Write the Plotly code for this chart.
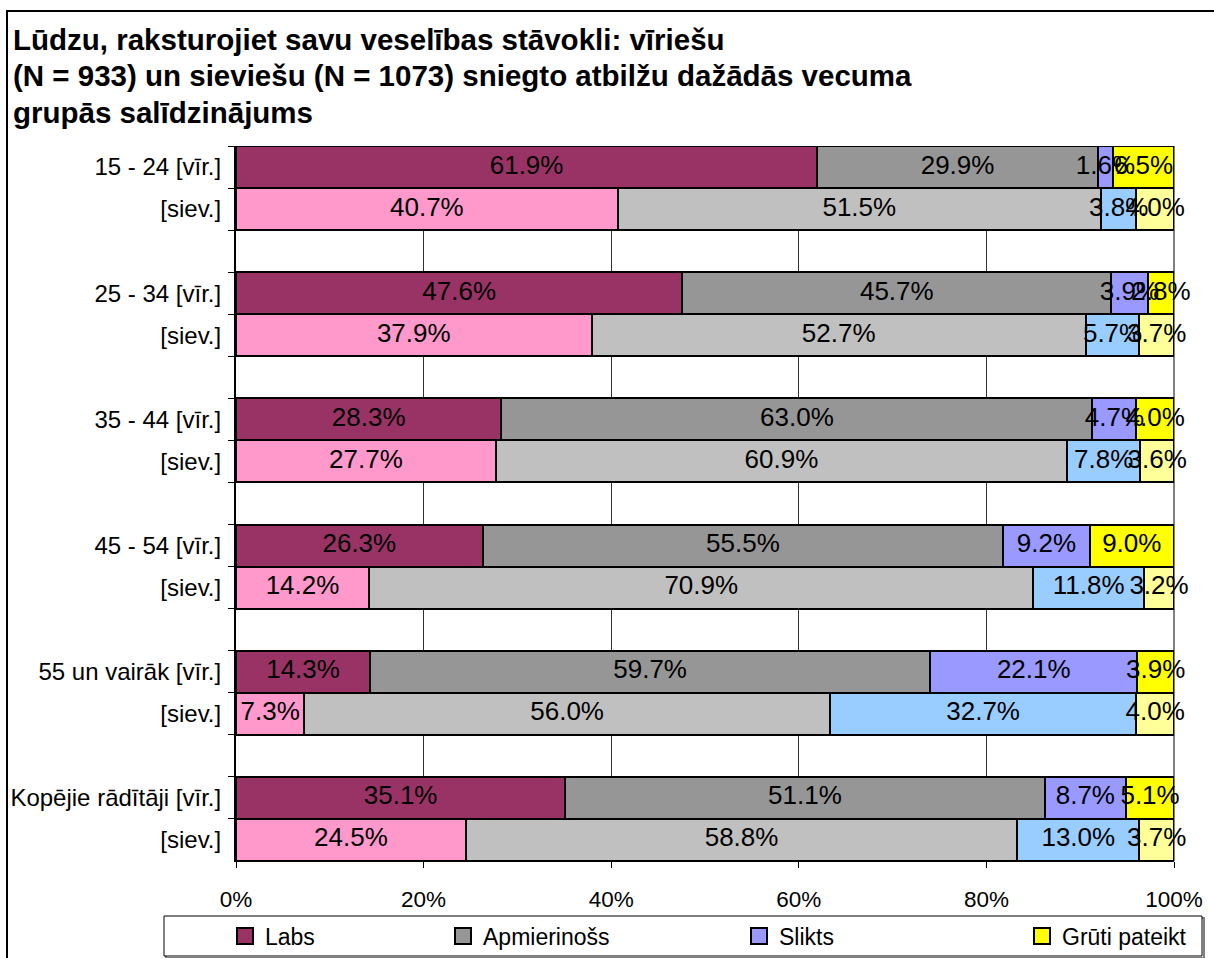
import plotly.graph_objects as go

# health self-rating by age group, men (vīr.) vs women (siev.)
groups = ["15 - 24", "25 - 34", "35 - 44", "45 - 54", "55 un vairāk", "Kopējie rādītāji"]
answers = ["Labs", "Apmierinošs", "Slikts", "Grūti pateikt"]

men = {
    "Labs":          [61.9, 47.6, 28.3, 26.3, 14.3, 35.1],
    "Apmierinošs":   [29.9, 45.7, 63.0, 55.5, 59.7, 51.1],
    "Slikts":        [1.6, 3.9, 4.7, 9.2, 22.1, 8.7],
    "Grūti pateikt": [6.5, 2.8, 4.0, 9.0, 3.9, 5.1],
}
women = {
    "Labs":          [40.7, 37.9, 27.7, 14.2, 7.3, 24.5],
    "Apmierinošs":   [51.5, 52.7, 60.9, 70.9, 56.0, 58.8],
    "Slikts":        [3.8, 5.7, 7.8, 11.8, 32.7, 13.0],
    "Grūti pateikt": [4.0, 3.7, 3.6, 3.2, 4.0, 3.7],
}

men_colors = {"Labs": "#993366", "Apmierinošs": "#969696", "Slikts": "#9999FF", "Grūti pateikt": "#FFFF00"}
women_colors = {"Labs": "#FF99CC", "Apmierinošs": "#C0C0C0", "Slikts": "#99CCFF", "Grūti pateikt": "#FFFF99"}

title_lines = [
    "Lūdzu, raksturojiet savu veselības stāvokli: vīriešu",
    "(N = 933) un sieviešu (N = 1073) sniegto atbilžu dažādās vecuma",
    "grupās salīdzinājums",
]

FONT = "Arial, 'Liberation Sans', sans-serif"
W, H = 1214, 958
PL, PR, PT, PB = 236, 1174, 146, 861


def px_x(px):
    return (px - PL) / (PR - PL)


def px_y(py):
    return (PB - py) / (PB - PT)


# category rows: men, women, empty spacer (zero-width spaces keep them unique)
rows = []
for i, g in enumerate(groups):
    rows.append(("m", i, f"{g} [vīr.]"))
    rows.append(("w", i, "[siev.]" + "\u200b" * (i + 1)))
    if i < len(groups) - 1:
        rows.append(("gap", i, "\u200b" * (i + 1)))
categories = [r[2] for r in rows]

fig = go.Figure()
for a in answers:
    xs, cols = [], []
    for kind, i, _ in rows:
        if kind == "m":
            xs.append(men[a][i]); cols.append(men_colors[a])
        elif kind == "w":
            xs.append(women[a][i]); cols.append(women_colors[a])
        else:
            xs.append(None); cols.append("white")
    fig.add_trace(go.Bar(
        name=a,
        y=categories,
        x=xs,
        orientation="h",
        marker=dict(color=cols, line=dict(color="black", width=2)),
        showlegend=False,
        hoverinfo="skip",
    ))

# value labels drawn on top of all bars, centred in each (100%-normalised) segment
lab_x, lab_y, lab_t = [], [], []
for kind, i, cat in rows:
    if kind == "gap":
        continue
    src = men if kind == "m" else women
    vals = [src[a][i] for a in answers]
    total = sum(vals)
    cum = 0.0
    for v in vals:
        share = v * 100 / total
        lab_x.append(cum + share / 2)
        lab_y.append(cat)
        lab_t.append(f"{v:.1f}%")
        cum += share
fig.add_trace(go.Scatter(
    x=lab_x, y=lab_y, text=lab_t, mode="text",
    textposition="middle center",
    textfont=dict(family=FONT, size=26, color="black"),
    cliponaxis=False, showlegend=False, hoverinfo="skip",
))

# legend entries (one legend each so they can sit where the original has them)
legend_px = [247, 465, 761, 1044]
for k, a in enumerate(answers):
    fig.add_trace(go.Scatter(
        x=[None], y=[None], mode="markers", name=a,
        marker=dict(symbol="square", size=18, color=men_colors[a], line=dict(color="black", width=2)),
        legend="legend" if k == 0 else f"legend{k + 1}",
        hoverinfo="skip",
    ))

legend_common = dict(
    orientation="h",
    xref="container", yref="container",
    xanchor="left", yanchor="middle",
    font=dict(family=FONT, size=23, color="black"),
    bgcolor="rgba(0,0,0,0)",
    borderwidth=0,
    itemsizing="trace",
)
legends = {}
for k, cx in enumerate(legend_px):
    key = "legend" if k == 0 else f"legend{k + 1}"
    legends[key] = dict(legend_common, x=(cx - 22) / W, y=1 - 936 / H)

annotations = [
    dict(text=line, xref="paper", yref="paper",
         x=px_x(11), xanchor="left", y=px_y(39 + 37 * n), yanchor="middle",
         showarrow=False, font=dict(family=FONT, size=29.5, color="black", weight="bold"))
    for n, line in enumerate(title_lines)
]

fig.update_layout(
    width=W,
    height=H,
    margin=dict(l=PL, r=W - PR, t=PT, b=H - PB, autoexpand=False),
    paper_bgcolor="white",
    plot_bgcolor="white",
    barmode="stack",
    barnorm="percent",
    bargap=0,
    font=dict(family=FONT, size=24, color="black"),
    annotations=annotations,
    xaxis=dict(
        range=[0, 100],
        dtick=20,
        ticksuffix="%",
        showgrid=True,
        gridcolor="#333333",
        gridwidth=1,
        showline=True,
        linecolor="black",
        linewidth=1,
        ticks="outside",
        ticklen=6,
        tickcolor="black",
        ticklabelstandoff=12,
        zeroline=False,
        tickfont=dict(size=22.5),
    ),
    yaxis=dict(
        type="category",
        categoryorder="array",
        categoryarray=categories,
        range=[len(categories) - 0.5, -0.5],
        tickson="boundaries",
        ticks="outside",
        ticklen=6,
        tickcolor="black",
        showline=True,
        linecolor="black",
        linewidth=2,
        showgrid=False,
        ticklabelstandoff=8,
        tickfont=dict(size=24),
    ),
    shapes=[
        # outer chart frame
        dict(type="rect", xref="paper", yref="paper",
             x0=px_x(7), x1=px_x(1220), y0=px_y(970), y1=px_y(11),
             line=dict(color="black", width=2), fillcolor="rgba(0,0,0,0)", layer="below"),
        # right edge of plot area
        dict(type="line", xref="paper", yref="paper",
             x0=1, x1=1, y0=0, y1=1, line=dict(color="#808080", width=2), layer="below"),
        # legend box with a light shadow
        dict(type="rect", xref="paper", yref="paper",
             x0=px_x(166), x1=px_x(1204), y0=px_y(958), y1=px_y(918),
             line=dict(color="#808080", width=2), fillcolor="rgba(0,0,0,0)", layer="below"),
        dict(type="rect", xref="paper", yref="paper",
             x0=px_x(164), x1=px_x(1202), y0=px_y(956), y1=px_y(916),
             line=dict(color="black", width=1), fillcolor="white", layer="below"),
    ],
    **legends,
)

# drop the browser's default page margin so the figure sits at the window origin
fig.write_html(
    "out.html",
    config={"displayModeBar": False},
    post_script="document.body.style.margin='0';document.body.style.overflow='hidden';",
)
